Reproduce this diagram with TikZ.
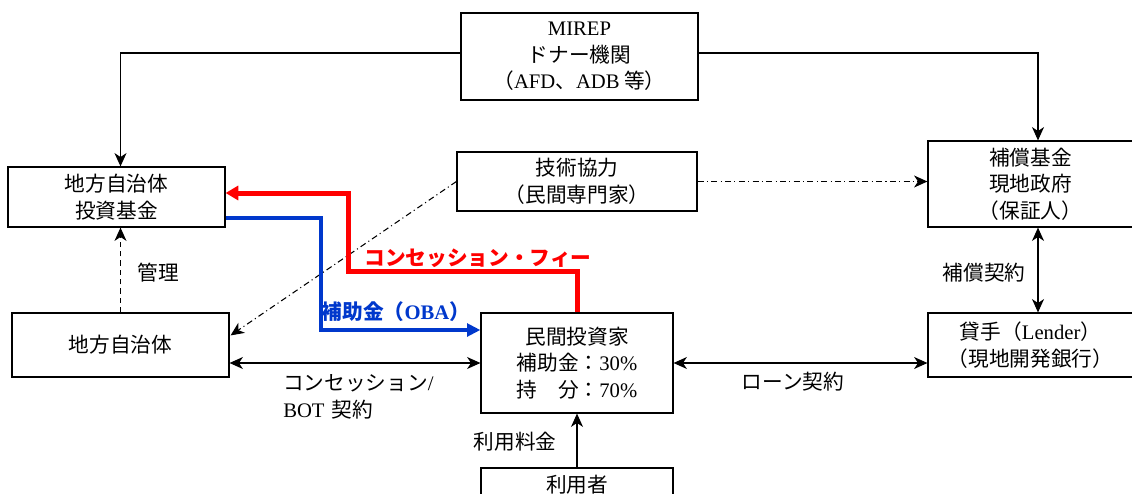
\documentclass[tikz,border=0pt]{standalone}
\usepackage{fontspec}
\setmainfont{Liberation Serif}
\newfontfamily\jp{Noto Sans CJK JP}
\usetikzlibrary{arrows.meta,calc}
\definecolor{obablue}{RGB}{0,56,204}
\definecolor{feered}{RGB}{255,0,0}
\begin{document}
\begin{tikzpicture}[x=0.75pt,y=-0.75pt,
  box/.style={draw, line width=0.9pt, align=center, inner sep=0pt, font=\jp\fontsize{15.5}{20}\selectfont},
  lbl/.style={inner sep=0pt, align=left, font=\jp\fontsize{15.5}{20}\selectfont},
  tip/.style={Stealth[length=10pt,width=9pt,inset=3pt]},
  conn/.style={line width=0.8pt, -{Stealth[length=10pt,width=9pt,inset=3pt]}},
  dbl/.style={line width=0.8pt, {Stealth[length=10pt,width=9pt,inset=3pt]}-{Stealth[length=10pt,width=9pt,inset=3pt]}},
  dashdot/.style={conn, dash pattern=on 4.5pt off 2.5pt on 0.8pt off 2.5pt},
  dashconn/.style={conn, dash pattern=on 4pt off 3pt},
  redline/.style={draw=feered, line width=3.75pt, line join=miter, -{Triangle[length=9.5pt,width=10.5pt]}},
  blueline/.style={draw=obablue, line width=3pt, line join=miter, -{Triangle[length=10pt,width=9.5pt]}}
]
\path[use as bounding box, fill=white] (0,0) rectangle (1132,493);

\node[box, minimum width=177.75pt, minimum height=65.25pt] (mirep) at (579.5,56.5)
  {{\rmfamily MIREP}\\ドナー機関\\（{\rmfamily AFD}、{\rmfamily ADB} 等）};
\node[box, minimum width=162.75pt, minimum height=45pt] (fund) at (116.5,197) {地方自治体\\投資基金};
\node[box, minimum width=180pt, minimum height=44.25pt] (tech) at (577,181.5) {技術協力\\（民間専門家）};
\node[box, minimum width=153.75pt, minimum height=64.5pt] (hosho) at (1030.5,184) {補償基金\\現地政府\\（保証人）};
\node[box, minimum width=162.75pt, minimum height=48pt] (local) at (120.5,345) {地方自治体};
\node[box, minimum width=144pt, minimum height=75pt] (inv) at (577,363)
  {民間投資家\\補助金：{\rmfamily 30\%}\\持　分：{\rmfamily 70\%}};
\node[box, minimum width=153.75pt, minimum height=48pt] (lender) at (1030.5,345)
  {貸手（{\rmfamily Lender}）\\（現地開発銀行）};
\node[box, minimum width=144pt, minimum height=27pt, text depth=4pt] (user) at (577,486) {利用者};

\coordinate (vx) at ($(hosho.north)+(7.5,0)$);
\coordinate (tipL) at ($(local.north east)+(1,23)$);
\coordinate (bl) at (321,330);

\draw[conn] ($(mirep.west)+(0,-3.5)$) -| (local.north |- fund.north);
\draw[conn] ($(mirep.east)+(0,-3.5)$) -| (vx);
\draw[dashdot] (tech.east) -- (hosho.west |- tech.east);
\draw[dashdot] (tech.west) -- (tipL);
\draw[dashconn] (local.north) -- (local.north |- fund.south);
\draw[dbl] (local.east |- inv.west) -- (inv.west);
\draw[dbl] (inv.east) -- (lender.west |- inv.east);
\draw[dbl] (vx |- hosho.south) -- (vx |- lender.north);
\draw[conn] (user.north) -- (inv.south);

\draw[redline] (inv.north) -- ++(0,-41) -| (348,193) -- ($(fund.east)+(0,-4)$);
\draw[blueline] ($(fund.east)+(0,21)$) -| (bl) -- (inv.west |- bl);

\node[lbl] (kanri) at (158,273) {管理};
\node[lbl, text=feered] (fee) at (478,258) {\bfseries コンセッション・フィー};
\node[lbl, text=obablue] (oba) at (396,312) {\bfseries 補助金（{\rmfamily OBA}）};
\node[lbl, anchor=west] (bot) at (283,397) {コンセッション{\rmfamily /}\\{\rmfamily BOT}\hspace{0.35em}契約};
\node[lbl] (loan) at (793,382) {ローン契約};
\node[lbl] (hk) at (984,273) {補償契約};
\node[lbl] (fee2) at (515,442) {利用料金};
\end{tikzpicture}
\end{document}
